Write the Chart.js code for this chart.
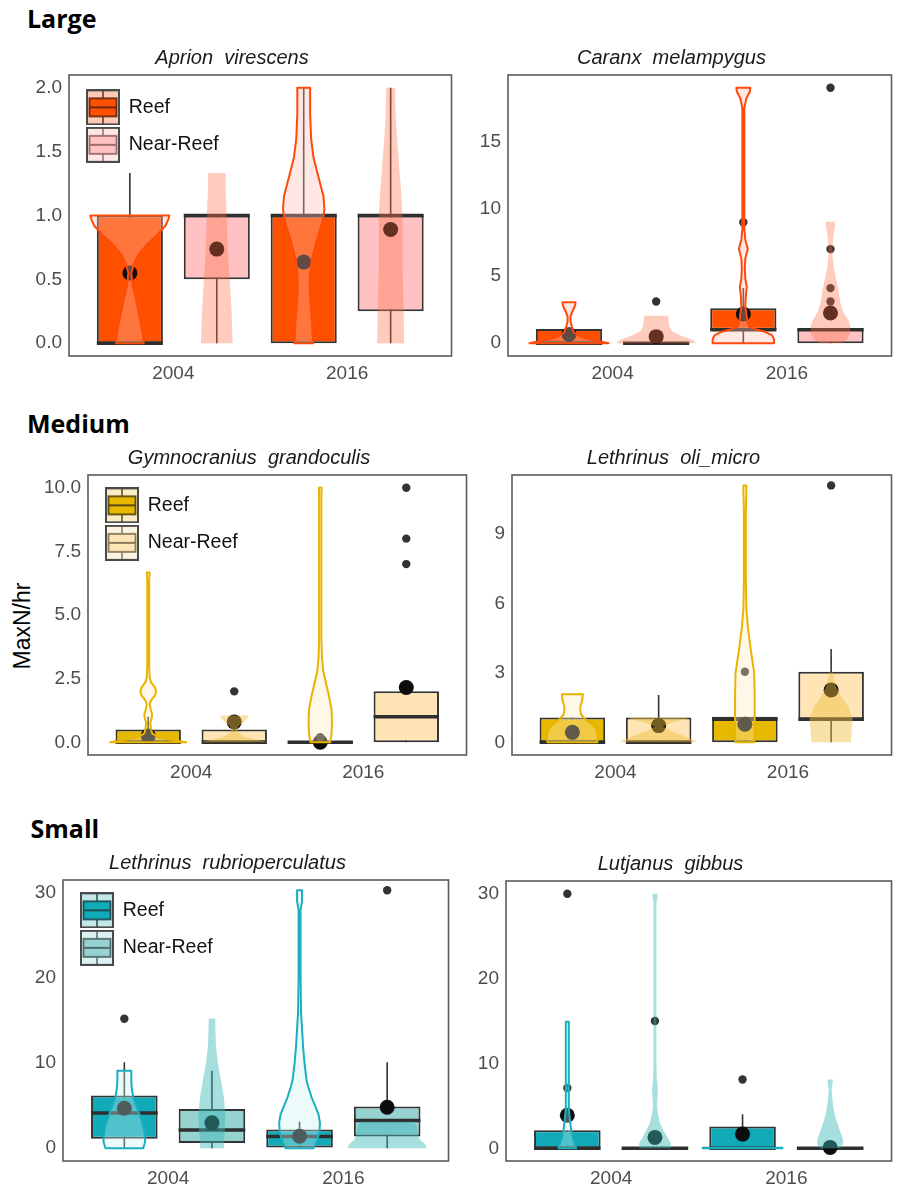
<!DOCTYPE html>
<html><head><meta charset="utf-8">
<script src="https://cdn.jsdelivr.net/npm/chart.js@4.4.1/dist/chart.umd.min.js"></script>
<style>
html,body{margin:0;padding:0;background:#fff;}
body{width:899px;height:1188px;position:relative;overflow:hidden;font-family:"Liberation Sans",Arial,sans-serif;}
canvas{position:absolute;}
.sec{position:absolute;font-family:"Open Sans",Lato,sans-serif;font-weight:700;font-size:25px;line-height:1;color:#000;white-space:nowrap;}
.ylab{position:absolute;font-family:"Liberation Sans",Arial,sans-serif;font-size:23px;line-height:1;color:#000;white-space:nowrap;transform:translate(-50%,-50%) rotate(-90deg);}
</style></head><body>
<div class="sec" style="left:27px;top:5.6px">Large</div>
<div class="sec" style="left:27px;top:410.6px">Medium</div>
<div class="sec" style="left:30.5px;top:815.8px">Small</div>
<div class="ylab" style="left:22px;top:626px">MaxN/hr</div>
<script>
// ---------- shared categories ----------
const groupX = [0.75, 1.25, 1.75, 2.25];          // Reef 2004, Near-Reef 2004, Reef 2016, Near-Reef 2016
const xTickValues = [1, 2];
const xTickLabels = ['2004', '2016'];
const legendLabels = ['Reef', 'Near-Reef'];

// ---------- Large: Aprion virescens ----------
const aprionQ1 = [0, 0.5, 0, 0.25];
const aprionMedian = [0, 1, 1, 1];
const aprionQ3 = [1, 1, 1, 1];
const aprionWhiskerLow = [0, 0, 0, 0];
const aprionWhiskerHigh = [1.333, 1, 2, 2];
const aprionMean = [0.55, 0.737, 0.635, 0.89];
const aprionOutliers = [[], [], [], []];
const aprionViolins = [
  [[0,14],[0.08,13],[0.2,10],[0.35,6],[0.45,3],[0.55,1.5],[0.62,4],[0.7,9],[0.78,18],[0.85,28],[0.92,36],[0.97,39],[1.0,40]],
  [[0,16],[0.25,15],[0.5,13],[0.75,11],[1.0,10],[1.2,9],[1.333,9]],
  [[0,9.5],[0.15,8.5],[0.35,6.5],[0.5,6],[0.65,8],[0.8,13],[0.95,19],[1.05,21],[1.15,20],[1.3,15],[1.45,10],[1.6,7.5],[1.8,6.5],[2.0,6.5]],
  [[0,13.7],[0.3,13],[0.6,12],[1.0,12],[1.2,10.5],[1.4,8.5],[1.6,6.5],[1.8,5],[2.0,4.5]]
];
const aprionYTicks = [0, 0.5, 1, 1.5, 2];
const aprionYLabels = ['0.0', '0.5', '1.0', '1.5', '2.0'];

// ---------- Large: Caranx melampygus ----------
const caranxQ1 = [0, 0, 1, 0];
const caranxMedian = [0, 0, 1, 1];
const caranxQ3 = [1.05, 0.1, 2.6, 1.1];
const caranxWhiskerLow = [0, 0, 0, 0];
const caranxWhiskerHigh = [1.05, 0.1, 4.1, 1.1];
const caranxMean = [0.65, 0.49, 2.17, 2.25];
const caranxOutliers = [[], [3.1], [9.0], [19, 7, 4.1, 3.1]];
const caranxViolins = [
  [[0,40],[0.1,34],[0.25,22],[0.5,11],[0.8,5],[1.2,3],[1.6,1.5],[2.0,1.5],[2.3,3],[2.6,5],[2.85,6.3],[3.05,6.5]],
  [[0,40],[0.15,39],[0.35,33],[0.6,24],[0.9,16],[1.3,13],[1.7,12.5],[2.05,12.5]],
  [[0,31],[0.3,31],[0.6,29],[0.85,22],[1.0,14],[1.2,6],[1.6,4],[2.2,3],[2.8,2],[3.5,2.5],[4.2,3.5],[4.8,2],[5.5,1.5],[6.3,2],[7.0,4.5],[7.7,2],[8.5,1],[10,1],[14,1],[17.5,1],[18.2,3],[18.7,6.5],[19,7]],
  [[0,11],[0.3,17],[0.8,20],[1.3,20],[1.7,18],[2.3,13],[3.0,10],[4.0,8],[5.0,5],[5.75,3],[6.5,2],[7.2,2],[8.0,3],[8.7,4.5],[9.03,4.5]]
];
const caranxYTicks = [0, 5, 10, 15];
const caranxYLabels = ['0', '5', '10', '15'];

// ---------- Medium: Gymnocranius grandoculis ----------
const gymnoQ1 = [0, 0, 0, 0];
const gymnoMedian = [0, 0, 0, 1];
const gymnoQ3 = [0.5, 0.5, 0, 2];
const gymnoWhiskerLow = [0, 0, 0, 0];
const gymnoWhiskerHigh = [1, 1, 0, 2];
const gymnoMean = [0.25, 0.8, 0.0, 2.15];
const gymnoOutliers = [[], [2], [0.2], [7, 8, 10]];
const gymnoViolins = [
  [[0,39],[0.08,25],[0.2,10],[0.35,4],[0.5,3],[0.75,2],[0.95,3.5],[1.1,4],[1.3,2.5],[1.5,1.5],[1.65,3],[1.85,7],[2.0,8],[2.15,7],[2.35,3],[2.55,1.5],[3,1],[6.4,1],[6.67,1.5]],
  [[0,36],[0.08,25],[0.2,12],[0.35,5],[0.5,2.5],[0.65,5],[0.8,10],[0.95,14],[1.05,14]],
  [[0,10],[0.3,11.5],[0.8,12],[1.3,11.5],[1.8,9],[2.3,6],[2.8,3],[3.3,1.8],[4,1.2],[9.8,1.2],[10,1.5]],
  []
];
const gymnoYTicks = [0, 2.5, 5, 7.5, 10];
const gymnoYLabels = ['0.0', '2.5', '5.0', '7.5', '10.0'];

// ---------- Medium: Lethrinus oli_micro ----------
const oliQ1 = [0, 0, 0, 1];
const oliMedian = [0, 0, 1, 1];
const oliQ3 = [1.07, 1.07, 1.1, 3.05];
const oliWhiskerLow = [0, 0, 0, 0];
const oliWhiskerHigh = [1.07, 2.04, 1.1, 4.03];
const oliMean = [0.43, 0.72, 0.78, 2.26];
const oliOutliers = [[], [], [3.05], [11.1]];
const oliViolins = [
  [[0,25.5],[0.3,26],[0.6,24],[0.85,18],[1.0,13],[1.2,9],[1.4,8],[1.6,8.5],[1.8,10],[2.07,10.7]],
  [[0,40],[0.1,36],[0.3,24],[0.5,12],[0.68,4],[0.85,14],[1.0,28],[1.07,30]],
  [[0,9.5],[0.5,10],[1.0,10],[2,10],[3,9.5],[4,6],[5,3],[5.8,1.5],[7,1],[10,1],[10.8,1.5],[11.1,1.5]],
  [[0,20],[0.5,21],[1.0,22],[1.5,18],[2.0,10],[2.5,4],[3.0,2]]
];
const oliYTicks = [0, 3, 6, 9];
const oliYLabels = ['0', '3', '6', '9'];

// ---------- Small: Lethrinus rubrioperculatus ----------
const rubrioQ1 = [1.1, 0.62, 0.1, 1.37];
const rubrioMedian = [4.15, 2.15, 1.37, 3.25];
const rubrioQ3 = [6.2, 4.62, 2.2, 4.9];
const rubrioWhiskerLow = [0, 0, 0, 0];
const rubrioWhiskerHigh = [10.1, 9.1, 3.1, 10.1];
const rubrioMean = [4.7, 2.98, 1.4, 4.82];
const rubrioOutliers = [[15.2], [], [], [30.3]];
const rubrioViolins = [
  [[0,19],[0.8,21],[2,20],[3,18],[4,15],[5,12],[6,9],[7,7.5],[8,7],[9.1,7]],
  [[0,12],[1,12],[2,13],[4,13.5],[6,12],[8,9],[10,6],[12,4],[14,3.5],[15.2,3.3]],
  [[0,14],[1,18],[2,20],[3,20.5],[4,19],[6,12],[7.4,8.3],[8,7],[10,5],[12,3.5],[13,3],[16,1.5],[20,1],[28,1],[29,2.5],[30.3,2.5]],
  [[0,40],[0.5,38],[1,33],[1.5,31],[2.5,30],[3.1,27]]
];
const rubrioYTicks = [0, 10, 20, 30];
const rubrioYLabels = ['0', '10', '20', '30'];

// ---------- Small: Lutjanus gibbus ----------
const gibbusQ1 = [0, 0, 0, 0];
const gibbusMedian = [0, 0, 0, 0];
const gibbusQ3 = [2.13, 0, 2.57, 0];
const gibbusWhiskerLow = [0, 0, 0, 0];
const gibbusWhiskerHigh = [2.13, 0, 4.0, 0];
const gibbusMean = [3.9, 1.28, 1.67, 0.1];
const gibbusOutliers = [[7.1, 30], [15], [8.1], []];
const gibbusViolins = [
  [[0,9],[1,6],[2,4],[3,3],[4,2],[5,1.5],[14.5,1.5],[14.9,1.5]],
  [[0,15.8],[0.5,16],[1,14],[2,9],[3,5],[4,3],[5,2],[6,2.5],[7,3],[8,2],[10,1.5],[29,1.5],[29.5,2.5],[30,2.5]],
  [[0,40],[0.05,40]],
  [[0,10],[0.5,13],[1,13],[2,10],[3,7],[4,4.5],[5,3],[6,2],[7,1.5],[7.6,2.5],[8.1,2.5]]
];
const gibbusYTicks = [0, 10, 20, 30];
const gibbusYLabels = ['0', '10', '20', '30'];

// ---------- styles ----------
const FONT = '"Liberation Sans", Arial, sans-serif';
Chart.defaults.font.family = FONT;
const VIOLIN_UNIT = 1 / 176;   // violin half-width units -> x-axis units
const BOX_HALF = 0.19;

const palettes = {
  large: {reefBox:'#FF5000', nearBox:'#FFC1C1', reefLine:'#FF4A0A', reefFill:'rgba(255,190,175,0.35)', nearFill:'rgba(255,110,70,0.36)',
          keyReefOuter:'#FDCBB5', keyNearOuter:'#FDE6E6', keyReefLine:'#6B2A12', keyNearLine:'#9A6E6E'},
  medium:{reefBox:'#E6B800', nearBox:'#FFE4B5', reefLine:'#E8B400', reefFill:'rgba(255,235,190,0.35)', nearFill:'rgba(240,190,60,0.45)',
          keyReefOuter:'#FAECC4', keyNearOuter:'#FCF4E2', keyReefLine:'#5A4A10', keyNearLine:'#8A7A5A'},
  small: {reefBox:'#10AAB8', nearBox:'#95D2D0', reefLine:'#1AAFC0', reefFill:'rgba(200,240,242,0.35)', nearFill:'rgba(60,185,185,0.45)',
          keyReefOuter:'#C4E8EA', keyNearOuter:'#DDF1F1', keyReefLine:'#1E4E55', keyNearLine:'#4E6E6E'}
};

function keyImage(outer, box, line) {
  const c = document.createElement('canvas'); c.width = 34; c.height = 36;
  const g = c.getContext('2d');
  g.fillStyle = outer; g.fillRect(1, 1, 32, 34);
  g.strokeStyle = line; g.lineWidth = 1.5;
  g.beginPath(); g.moveTo(17, 2); g.lineTo(17, 9); g.moveTo(17, 27); g.lineTo(17, 34); g.stroke();
  g.fillStyle = box; g.fillRect(3.5, 9, 27, 18);
  g.lineWidth = 1.8; g.strokeRect(3.5, 9, 27, 18);
  g.lineWidth = 2; g.beginPath(); g.moveTo(3.5, 18); g.lineTo(30.5, 18); g.stroke();
  g.strokeStyle = '#4a4a4a'; g.lineWidth = 2; g.strokeRect(1, 1, 32, 34);
  return c;
}

const panels = [
  {title:'Aprion  virescens', rect:[69,75,455,356], yMin:-0.1, yMax:2.1, yTicks:aprionYTicks, yLabels:aprionYLabels,
   q1:aprionQ1, med:aprionMedian, q3:aprionQ3, wlo:aprionWhiskerLow, whi:aprionWhiskerHigh, mean:aprionMean, out:aprionOutliers, vio:aprionViolins,
   pal:palettes.large, legend:true, legendTop:4.5},
  {title:'Caranx  melampygus', rect:[508,75,895,356], yMin:-0.95, yMax:19.95, yTicks:caranxYTicks, yLabels:caranxYLabels,
   q1:caranxQ1, med:caranxMedian, q3:caranxQ3, wlo:caranxWhiskerLow, whi:caranxWhiskerHigh, mean:caranxMean, out:caranxOutliers, vio:caranxViolins,
   pal:palettes.large, legend:false},
  {title:'Gymnocranius  grandoculis', rect:[88,475,470,755], yMin:-0.5, yMax:10.5, yTicks:gymnoYTicks, yLabels:gymnoYLabels,
   q1:gymnoQ1, med:gymnoMedian, q3:gymnoQ3, wlo:gymnoWhiskerLow, whi:gymnoWhiskerHigh, mean:gymnoMean, out:gymnoOutliers, vio:gymnoViolins,
   pal:palettes.medium, legend:true, legendTop:2.5},
  {title:'Lethrinus  oli_micro', rect:[512,475,895,755], yMin:-0.55, yMax:11.55, yTicks:oliYTicks, yLabels:oliYLabels,
   q1:oliQ1, med:oliMedian, q3:oliQ3, wlo:oliWhiskerLow, whi:oliWhiskerHigh, mean:oliMean, out:oliOutliers, vio:oliViolins,
   pal:palettes.medium, legend:false},
  {title:'Lethrinus  rubrioperculatus', rect:[63,880,452,1161], yMin:-1.5, yMax:31.5, yTicks:rubrioYTicks, yLabels:rubrioYLabels,
   q1:rubrioQ1, med:rubrioMedian, q3:rubrioQ3, wlo:rubrioWhiskerLow, whi:rubrioWhiskerHigh, mean:rubrioMean, out:rubrioOutliers, vio:rubrioViolins,
   pal:palettes.small, legend:true, legendTop:2.5},
  {title:'Lutjanus  gibbus', rect:[506,881,895,1161], yMin:-1.5, yMax:31.5, yTicks:gibbusYTicks, yLabels:gibbusYLabels,
   q1:gibbusQ1, med:gibbusMedian, q3:gibbusQ3, wlo:gibbusWhiskerLow, whi:gibbusWhiskerHigh, mean:gibbusMean, out:gibbusOutliers, vio:gibbusViolins,
   pal:palettes.small, legend:false}
];

function makePanel(p) {
  const AX = 60, TH = 40, XH = 34, PR = 4;
  const [L, T, R, B] = p.rect;
  const W = AX + (R - L) + PR, H = TH + (B - T) + XH;
  const cv = document.createElement('canvas');
  cv.width = W; cv.height = H;
  cv.style.left = (L - AX) + 'px'; cv.style.top = (T - TH) + 'px';
  cv.style.width = W + 'px'; cv.style.height = H + 'px';
  document.body.appendChild(cv);
  const pal = p.pal;
  const datasets = [];
  groupX.forEach((x, i) => {
    if (p.whi[i] > p.wlo[i]) datasets.push({type:'line', data:[{x, y:p.wlo[i]}, {x, y:p.whi[i]}],
      borderColor:'#333', borderWidth:1.6, pointRadius:0, order:5});
  });
  datasets.push({type:'bar', data: groupX.map((x, i) => ({x, y:[p.q1[i], p.q3[i]]})),
    backgroundColor: groupX.map((_, i) => i % 2 === 0 ? pal.reefBox : pal.nearBox),
    borderColor:'#333', borderWidth:2, borderSkipped:false, barPercentage:0.76, categoryPercentage:1, order:4});
  groupX.forEach((x, i) => datasets.push({type:'line', data:[{x:x - BOX_HALF, y:p.med[i]}, {x:x + BOX_HALF, y:p.med[i]}],
    borderColor:'#2e2e2e', borderWidth:3.5, pointRadius:0, order:3}));
  datasets.push({type:'scatter', data: groupX.map((x, i) => ({x, y:p.mean[i]})),
    pointRadius:7.5, backgroundColor:'#0d0d0d', borderWidth:0, order:2});
  const outPts = [];
  p.out.forEach((arr, i) => arr.forEach(v => outPts.push({x:groupX[i], y:v})));
  datasets.push({type:'scatter', data:outPts, pointRadius:4.2, backgroundColor:'#333', borderWidth:0, order:1});

  const keys = [keyImage(pal.keyReefOuter, pal.reefBox, pal.keyReefLine), keyImage(pal.keyNearOuter, pal.nearBox, pal.keyNearLine)];

  const violinPlugin = {
    id:'violinLayer',
    afterDatasetsDraw(chart) {
      const {ctx, chartArea:a, scales:{x:xs, y:ys}} = chart;
      ctx.save();
      ctx.beginPath(); ctx.rect(a.left, a.top, a.right - a.left, a.bottom - a.top); ctx.clip();
      p.vio.forEach((prof, i) => {
        if (!prof.length) return;
        const cx = groupX[i];
        ctx.beginPath();
        prof.forEach(([v, d], k) => {
          const px = xs.getPixelForValue(cx - d * VIOLIN_UNIT), py = ys.getPixelForValue(v);
          if (k) ctx.lineTo(px, py); else ctx.moveTo(px, py);
        });
        for (let k = prof.length - 1; k >= 0; k--) {
          const [v, d] = prof[k];
          ctx.lineTo(xs.getPixelForValue(cx + d * VIOLIN_UNIT), ys.getPixelForValue(v));
        }
        ctx.closePath();
        const reef = i % 2 === 0;
        ctx.fillStyle = reef ? pal.reefFill : pal.nearFill;
        ctx.fill();
        if (reef) { ctx.strokeStyle = pal.reefLine; ctx.lineWidth = 2; ctx.lineJoin = 'round'; ctx.stroke(); }
      });
      ctx.restore();
      ctx.save();
      ctx.strokeStyle = '#5a5a5a'; ctx.lineWidth = 1.6;
      ctx.strokeRect(a.left, a.top, a.right - a.left, a.bottom - a.top);
      ctx.restore();
    }
  };

  new Chart(cv, {
    type:'scatter',
    data:{datasets},
    plugins:[violinPlugin],
    options:{
      responsive:false, animation:false, events:[], devicePixelRatio:1,
      layout:{padding:{left:0, right:PR, top:0, bottom:0}},
      scales:{
        x:{type:'linear', min:0.4, max:2.6, offset:false,
           grid:{display:false, drawTicks:false}, border:{display:false},
           afterBuildTicks:s => { s.ticks = xTickValues.map(v => ({value:v})); },
           ticks:{callback:(v, i) => xTickLabels[i], padding:6, color:'#4d4d4d', font:{size:19}, maxRotation:0, autoSkip:false},
           afterFit:s => { s.height = XH; }},
        y:{type:'linear', min:p.yMin, max:p.yMax,
           grid:{display:false, drawTicks:false}, border:{display:false},
           afterBuildTicks:s => { s.ticks = p.yTicks.map(v => ({value:v})); },
           ticks:{callback:(v, i) => p.yLabels[i], padding:7, color:'#4d4d4d', font:{size:19}, autoSkip:false},
           afterFit:s => { s.width = AX; }}
      },
      plugins:{
        tooltip:{enabled:false},
        title:{display:true, text:p.title, color:'#1a1a1a', font:{size:20, style:'italic', weight:'normal'}, padding:{top:11, bottom:5}},
        legend: p.legend ? {
          display:true, position:'chartArea', align:'start',
          title:{display:true, text:'', padding:{top:TH + p.legendTop, bottom:0}, font:{size:0.1}},
          labels:{usePointStyle:true, pointStyleWidth:32, padding:18, color:'#111', font:{size:19.5},
            generateLabels:() => legendLabels.map((t, i) => ({text:t, pointStyle:keys[i], fillStyle:'#fff', strokeStyle:'#fff', lineWidth:0, hidden:false, fontColor:'#111', datasetIndex:i}))}
        } : {display:false}
      }
    }
  });
}
panels.forEach(makePanel);
</script>
</body></html>
